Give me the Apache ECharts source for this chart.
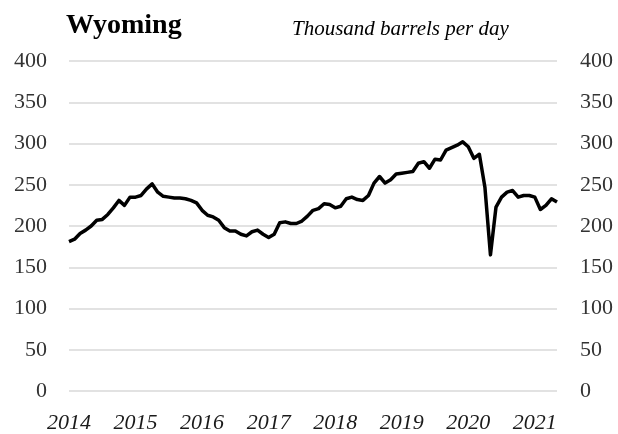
<!DOCTYPE html>
<html>
<head>
<meta charset="utf-8">
<title>Wyoming</title>
<script src="https://cdn.jsdelivr.net/npm/echarts@6/dist/echarts.min.js"></script>
<style>
  html, body { margin: 0; padding: 0; background: #fff; }
  #chart { width: 618px; height: 434px; }
</style>
</head>
<body>
<div id="chart"></div>
<script>
// years shown on the x axis (Jan of each year)
const years = ['2014', '2015', '2016', '2017', '2018', '2019', '2020', '2021']
// last month of data (May 2021)
const lastMonth = 5

// Wyoming crude oil production, thousand barrels per day, monthly from Jan 2014
const production = [
  181, 184, 191, 195, 200, 207, 208, 214, 222, 231, 225, 235,
  235, 237, 245, 251, 241, 236, 235, 234, 234, 233, 231, 228,
  219, 213, 211, 207, 198, 194, 194, 190, 188, 193, 195, 190,
  186, 190, 204, 205, 203, 203, 206, 212, 219, 221, 227, 226,
  222, 224, 233, 235, 232, 231, 237, 252, 260, 252, 256, 263,
  264, 265, 266, 276, 278, 270, 281, 280, 292, 295, 298, 302,
  296, 282, 287, 247, 165, 223, 235, 241, 243, 235, 237, 237,
  235, 220, 225, 233, 229,
]

// y axis ticks
const yTicks = [0, 50, 100, 150, 200, 250, 300, 350, 400]

// month categories built from the years
const months = []
years.forEach((y, yi) => {
  const n = yi === years.length - 1 ? lastMonth : 12
  for (let m = 1; m <= n; m++) {
    months.push(y + '-' + String(m).padStart(2, '0'))
  }
})

const serif = '"Liberation Serif", "DejaVu Serif", serif'
const textColor = '#1a1a1a'

const chartDom = document.getElementById('chart')
const myChart = echarts.init(chartDom, null, { renderer: 'canvas' })

const yAxisBase = {
  type: 'value',
  min: yTicks[0],
  max: yTicks[yTicks.length - 1],
  interval: yTicks[1] - yTicks[0],
  axisLine: { show: false },
  axisTick: { show: false },
}

const option = {
  animation: false,
  backgroundColor: '#fff',
  title: [
    {
      text: 'Wyoming',
      left: 61,
      top: 7,
      textStyle: {
        fontFamily: serif,
        fontWeight: 'bold',
        fontSize: 28,
        color: '#000',
      },
    },
    {
      text: 'Thousand barrels per day',
      left: 287,
      top: 14,
      textStyle: {
        fontFamily: serif,
        fontStyle: 'italic',
        fontWeight: 'normal',
        fontSize: 21,
        color: '#000',
      },
    },
  ],
  grid: {
    left: 69,
    right: 61,
    top: 61,
    bottom: 43,
  },
  xAxis: {
    type: 'category',
    data: months,
    boundaryGap: false,
    axisLine: { show: false },
    axisTick: { show: false },
    axisLabel: {
      interval: (index) => index % 12 === 0,
      formatter: (value) => value.slice(0, 4),
      fontFamily: serif,
      fontStyle: 'italic',
      fontSize: 22,
      color: textColor,
      margin: 21,
    },
    splitLine: { show: false },
  },
  yAxis: [
    {
      ...yAxisBase,
      position: 'left',
      axisLabel: {
        fontFamily: serif,
        fontSize: 22,
        color: '#333',
        margin: 22,
      },
      splitLine: {
        show: true,
        lineStyle: { color: '#d9d9d9', width: 1.5 },
      },
    },
    {
      ...yAxisBase,
      position: 'right',
      axisLabel: {
        fontFamily: serif,
        fontSize: 22,
        color: '#333',
        margin: 23,
      },
      splitLine: { show: false },
    },
  ],
  series: [
    {
      name: 'Wyoming',
      type: 'line',
      data: production,
      yAxisIndex: 0,
      showSymbol: false,
      symbol: 'none',
      lineStyle: { color: '#000', width: 3.5, join: 'round' },
    },
  ],
}

myChart.setOption(option)
</script>
</body>
</html>
